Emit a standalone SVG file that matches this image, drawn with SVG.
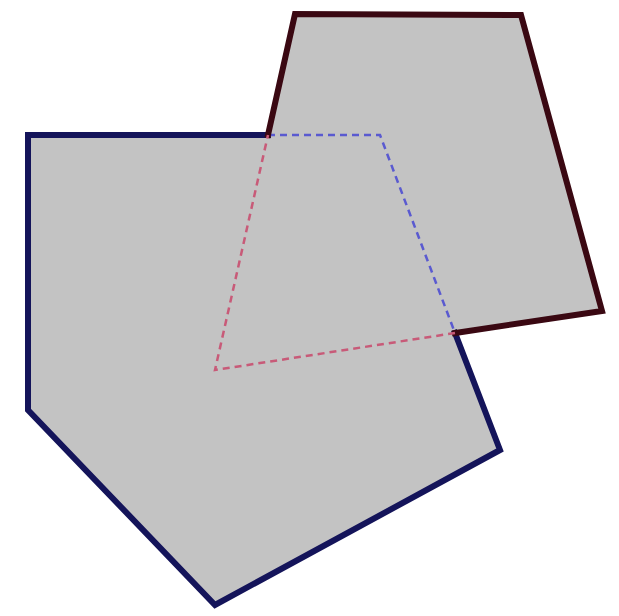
<svg xmlns="http://www.w3.org/2000/svg" width="619" height="616" viewBox="0 0 619 616">
  <style>
    .fill { fill: #c3c3c3; stroke: none; }
    .solid { fill: none; stroke-width: 6; stroke-linejoin: miter; stroke-linecap: square; }
    .dash { fill: none; stroke-width: 2.5; stroke-dasharray: 7 5; }
    .blue { stroke: #14145a; }
    .red { stroke: #3a0812; }
    .blueDash { stroke: #5a5ad0; }
    .redDash { stroke: #c85a78; }
  </style>
  <rect width="619" height="616" fill="#ffffff"/>
  <g id="pentagon-fill">
    <polygon class="fill" points="28,135 380,135 500,450 215,605 28,410"/>
  </g>
  <g id="quad-fill">
    <polygon class="fill" points="295,14 521,15 602,311 215,370"/>
  </g>
  <g id="connectors">
    <path class="solid blue" d="M268,135 L28,135 L28,410 L215,605 L500,450 L455,333"/>
    <path class="dash blueDash" d="M268,135 L380,135 L455,333"/>
    <path class="solid red" d="M268,135 L295,14 L521,15 L602,311 L455,333"/>
    <path class="dash redDash" d="M455,333 L215,370 L268,135"/>
  </g>
</svg>
